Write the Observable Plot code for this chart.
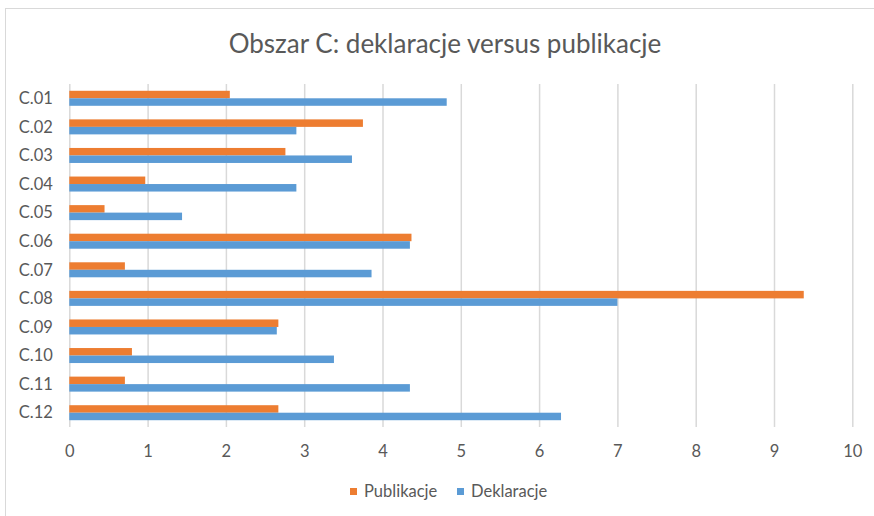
<!DOCTYPE html>
<html>
<head>
<meta charset="utf-8">
<script src="https://cdn.jsdelivr.net/npm/d3@7"></script>
<script src="https://cdn.jsdelivr.net/npm/@observablehq/plot@0.6"></script>
<style>
  html, body { margin: 0; padding: 0; background: #fff; }
  body { width: 874px; height: 516px; position: relative; overflow: hidden; font-family: Lato, "Open Sans", sans-serif; }
  #frame { position: absolute; left: 5px; top: 8px; width: 900px; height: 540px; border-left: 1.5px solid #d9d9d9; border-top: 1.5px solid #d9d9d9; box-sizing: border-box; }
  #title { position: absolute; left: 0; top: 0; width: 874px; height: 70px; }
  #title span { position: absolute; left: 0; width: 890px; text-align: center; top: 27px; font-size: 26px; line-height: 32px; color: #595959; }
  #chart { position: absolute; left: 0; top: 70px; line-height: 0; }
  #legend { position: absolute; left: 0; top: 470px; width: 874px; height: 46px; }
  .item { position: absolute; top: 11px; font-size: 16.5px; color: #595959; }
  .sw { display: inline-block; width: 7px; height: 7px; margin-right: 7px; vertical-align: 2px; }
</style>
</head>
<body>
<div id="frame"></div>
<div id="title"><span>Obszar C: deklaracje versus publikacje</span></div>
<div id="chart"></div>
<div id="legend"></div>
<script>
const categories = ["C.01","C.02","C.03","C.04","C.05","C.06","C.07","C.08","C.09","C.10","C.11","C.12"];
const publikacje = [2.05, 3.75, 2.76, 0.97, 0.45, 4.37, 0.71, 9.38, 2.67, 0.80, 0.71, 2.67];
const deklaracje = [4.82, 2.90, 3.61, 2.90, 1.44, 4.35, 3.86, 7.00, 2.65, 3.38, 4.35, 6.28];
const xTicks = [0,1,2,3,4,5,6,7,8,9,10];
const seriesNames = ["Publikacje", "Deklaracje"];
const seriesColors = ["#ED7D31", "#5B9BD5"];

const pubData = categories.map((c, i) => ({cat: c, v: publikacje[i]}));
const dekData = categories.map((c, i) => ({cat: c, v: deklaracje[i]}));

const chart = Plot.plot({
  width: 874,
  height: 400,
  marginLeft: 69.3,
  marginRight: 21.7,
  marginTop: 14,
  marginBottom: 43,
  style: {fontFamily: "Lato, 'Open Sans', sans-serif", fontSize: "16.5px", color: "#595959", background: "transparent"},
  x: {domain: [0, 10], ticks: xTicks, tickSize: 0, tickPadding: 18, label: null},
  y: {domain: categories, paddingInner: 0.475, paddingOuter: 0.2375, round: false, tickSize: 0, tickPadding: 17, label: null},
  marks: [
    Plot.ruleX(xTicks, {stroke: "#d9d9d9", strokeWidth: 1.5}),
    Plot.barX(pubData, {y: "cat", x: "v", fill: seriesColors[0], insetBottom: 7.5}),
    Plot.barX(dekData, {y: "cat", x: "v", fill: seriesColors[1], insetTop: 7.5})
  ]
});
document.getElementById("chart").appendChild(chart);

const legend = document.getElementById("legend");
const positions = [350, 457];
seriesNames.forEach((n, i) => {
  const d = document.createElement("div");
  d.className = "item";
  d.style.left = positions[i] + "px";
  d.innerHTML = `<span class="sw" style="background:${seriesColors[i]}"></span>${n}`;
  legend.appendChild(d);
});
</script>
</body>
</html>
